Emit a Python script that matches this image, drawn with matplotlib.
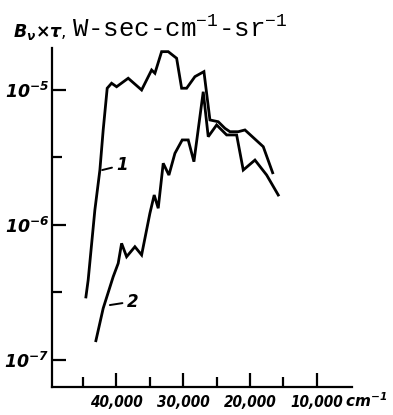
import numpy as np
import matplotlib
matplotlib.use("Agg")
import matplotlib.pyplot as plt
from matplotlib.ticker import FixedLocator, NullFormatter

plt.rcParams['mathtext.fontset'] = 'custom'
plt.rcParams['mathtext.rm'] = 'DejaVu Sans:italic:bold'
plt.rcParams['mathtext.it'] = 'DejaVu Sans:italic:bold'
plt.rcParams['mathtext.tt'] = 'Liberation Mono'

# кривая 1 (wavenumber, cm^-1 ; log10 of B*tau)
x1 = [44530, 44190, 43190, 42440, 41945, 41346, 40690, 39940, 38205, 36200,
      34704, 34210, 33209, 32221, 30965, 30217, 29469, 28228, 26881, 25984,
      24742, 23740, 22992, 21750, 20748, 18010, 16604]
logy1 = [-6.533, -6.407, -5.889, -5.593, -5.296, -4.987, -4.950, -4.976, -4.913, -5.000,
         -4.852, -4.876, -4.716, -4.716, -4.765, -4.987, -4.987, -4.901, -4.864, -5.222,
         -5.235, -5.284, -5.309, -5.309, -5.296, -5.420, -5.613]

# кривая 2
x2 = [43037, 41945, 40449, 39701, 39192, 38444, 37203, 36200, 34959, 34316,
      33717, 32969, 32117, 31219, 30127, 29230, 28377, 26986, 26238, 24981,
      23486, 21990, 21002, 19252, 17502, 15767]
logy2 = [-6.857, -6.617, -6.383, -6.284, -6.136, -6.235, -6.161, -6.222, -5.913, -5.778,
         -5.876, -5.543, -5.630, -5.469, -5.370, -5.370, -5.531, -5.013, -5.346, -5.259,
         -5.333, -5.333, -5.593, -5.519, -5.630, -5.778]

y1 = 10.0 ** np.array(logy1)
y2 = 10.0 ** np.array(logy2)

xticks_major = [40000, 30000, 20000, 10000]
xtick_labels = ['40,000', '30,000', '20,000', '10,000']
xticks_minor = [45000, 35000, 25000, 15000]
yticks_major = [1e-5, 1e-6, 1e-7]
ytick_labels = [r'$10^{-5}$', r'$10^{-6}$', r'$10^{-7}$']
yticks_minor = [10 ** -5.5, 10 ** -6.5]

# where the number labels sit on the curves
lab1_x, lab1_y = 42094, 10 ** -5.593
lab2_x, lab2_y = 40942, 10 ** -6.593

fig = plt.figure(figsize=(3.93, 4.15), dpi=100)
ax = fig.add_axes([52 / 393, 1 - 387 / 415, 300 / 393, 339 / 415])

ax.plot(x1, y1, color='black', lw=2.0, solid_joinstyle='miter')
ax.plot(x2, y2, color='black', lw=2.0, solid_joinstyle='miter')

ax.set_yscale('log')
ax.set_xlim(49600, 4740)
ax.set_ylim(10 ** -7.2, 10 ** -4.689)

for s in ['top', 'right']:
    ax.spines[s].set_visible(False)
for s in ['left', 'bottom']:
    ax.spines[s].set_linewidth(1.6)

ax.yaxis.set_major_locator(FixedLocator(yticks_major))
ax.yaxis.set_minor_locator(FixedLocator(yticks_minor))
ax.set_yticklabels(ytick_labels)
ax.yaxis.set_minor_formatter(NullFormatter())
ax.set_xticks(xticks_major)
ax.set_xticklabels(xtick_labels, fontfamily='DejaVu Sans', fontweight='bold',
                   fontstyle='italic', fontsize=11, fontstretch='condensed')
ax.set_xticks(xticks_minor, minor=True)

ax.tick_params(axis='both', which='major', direction='in', length=10, width=1.6)
ax.tick_params(axis='both', which='minor', direction='in', length=7, width=1.6)
ax.tick_params(axis='x', which='major', pad=6)
ax.tick_params(axis='y', which='major', pad=2, labelsize=12.5)

fig.text(345 / 393, 1 - 401 / 415, r'cm$^{-1}$', fontfamily='DejaVu Sans',
         fontweight='bold', fontstyle='italic', fontsize=11, va='center', ha='left')

fig.text(13 / 393, 1 - 37 / 415, r'$B_\nu{\times}\tau$,', fontsize=12.5, va='baseline')
fig.text(72 / 393, 1 - 37 / 415, r'W-sec-cm$^{\mathtt{-1}}$-sr$^{\mathtt{-1}}$',
         fontfamily='Liberation Mono', fontsize=18.5, va='baseline')

ax.annotate('1', xy=(lab1_x, lab1_y), xytext=(10, 3.5), textcoords='offset points',
            fontsize=12, fontweight='bold', fontstyle='italic', va='center', ha='left',
            arrowprops=dict(arrowstyle='-', lw=1.4, color='black', shrinkA=1, shrinkB=0))
ax.annotate('2', xy=(lab2_x, lab2_y), xytext=(12, 2.5), textcoords='offset points',
            fontsize=12, fontweight='bold', fontstyle='italic', va='center', ha='left',
            arrowprops=dict(arrowstyle='-', lw=1.4, color='black', shrinkA=1, shrinkB=0))

fig.savefig('out.png', dpi=100)
